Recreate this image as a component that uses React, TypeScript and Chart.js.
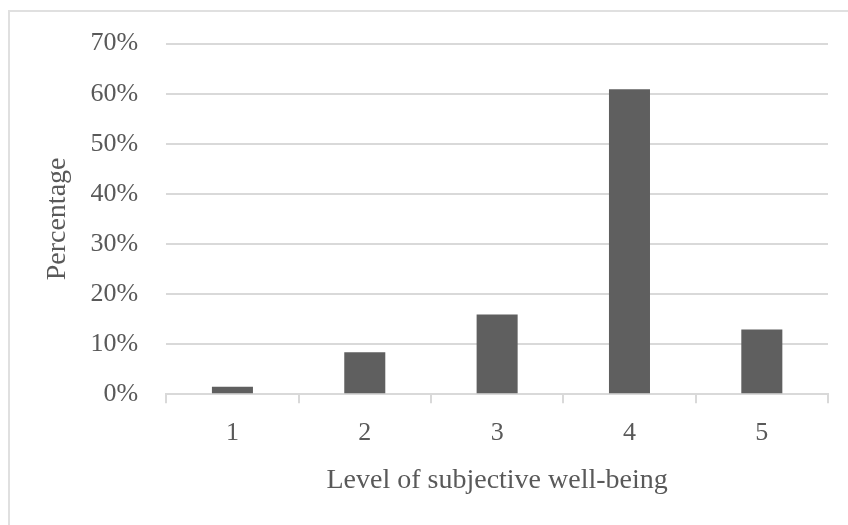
import React, { useEffect, useRef } from "react";
import { Chart, registerables } from "chart.js";

Chart.register(...registerables);

const categories = ["1", "2", "3", "4", "5"];
const percentages = [0.015, 0.084, 0.159, 0.609, 0.129];
const yTickLabels = ["0%", "10%", "20%", "30%", "40%", "50%", "60%", "70%"];
const xTitle = "Level of subjective well-being";
const yTitle = "Percentage";

const FONT = "'Liberation Serif', 'Times New Roman', serif";
const TEXT = "#595959";
const GRID = "#d9d9d9";

export default function App() {
  const ref = useRef<HTMLCanvasElement | null>(null);

  useEffect(() => {
    if (!ref.current) return;
    const chart = new Chart(ref.current, {
      type: "bar",
      data: {
        labels: categories,
        datasets: [
          {
            data: percentages,
            backgroundColor: "#5f5f5f",
            borderWidth: 0,
            barPercentage: 0.31,
            categoryPercentage: 1,
          },
        ],
      },
      options: {
        animation: false,
        responsive: false,
        maintainAspectRatio: false,
        layout: { padding: { top: 30, right: 20, bottom: 28, left: 29 } },
        plugins: { legend: { display: false }, tooltip: { enabled: false } },
        scales: {
          x: {
            grid: {
              drawOnChartArea: false,
              drawTicks: true,
              tickLength: 9,
              color: GRID,
              lineWidth: 2,
            },
            border: { display: true, color: GRID, width: 2 },
            ticks: {
              color: TEXT,
              font: { family: FONT, size: 26 },
              padding: 14,
            },
            title: {
              display: true,
              text: xTitle,
              color: TEXT,
              font: { family: FONT, size: 28 },
              padding: { top: 1, bottom: 0 },
            },
          },
          y: {
            min: 0,
            max: 0.7,
            grid: { color: GRID, lineWidth: 2, drawTicks: false },
            border: { display: false },
            ticks: {
              stepSize: 0.1,
              color: TEXT,
              font: { family: FONT, size: 26 },
              padding: 28,
              callback: (_v: any, i: number) => yTickLabels[i],
            },
            title: {
              display: true,
              text: yTitle,
              color: TEXT,
              font: { family: FONT, size: 28 },
              padding: { top: 12, bottom: -12 },
            },
          },
        },
      },
    });
    return () => chart.destroy();
  }, []);

  return (
    <div
      style={{
        position: "fixed",
        left: 0,
        top: 0,
        width: 848,
        height: 525,
        overflow: "hidden",
        background: "#ffffff",
      }}
    >
      <div
        style={{
          position: "absolute",
          left: 8,
          top: 10,
          width: 900,
          height: 600,
          borderLeft: "2px solid #e0e0e0",
          borderTop: "2px solid #e0e0e0",
        }}
      />
      <canvas
        ref={ref}
        width={848}
        height={525}
        style={{ position: "absolute", left: 0, top: 0, width: 848, height: 525 }}
      />
    </div>
  );
}
